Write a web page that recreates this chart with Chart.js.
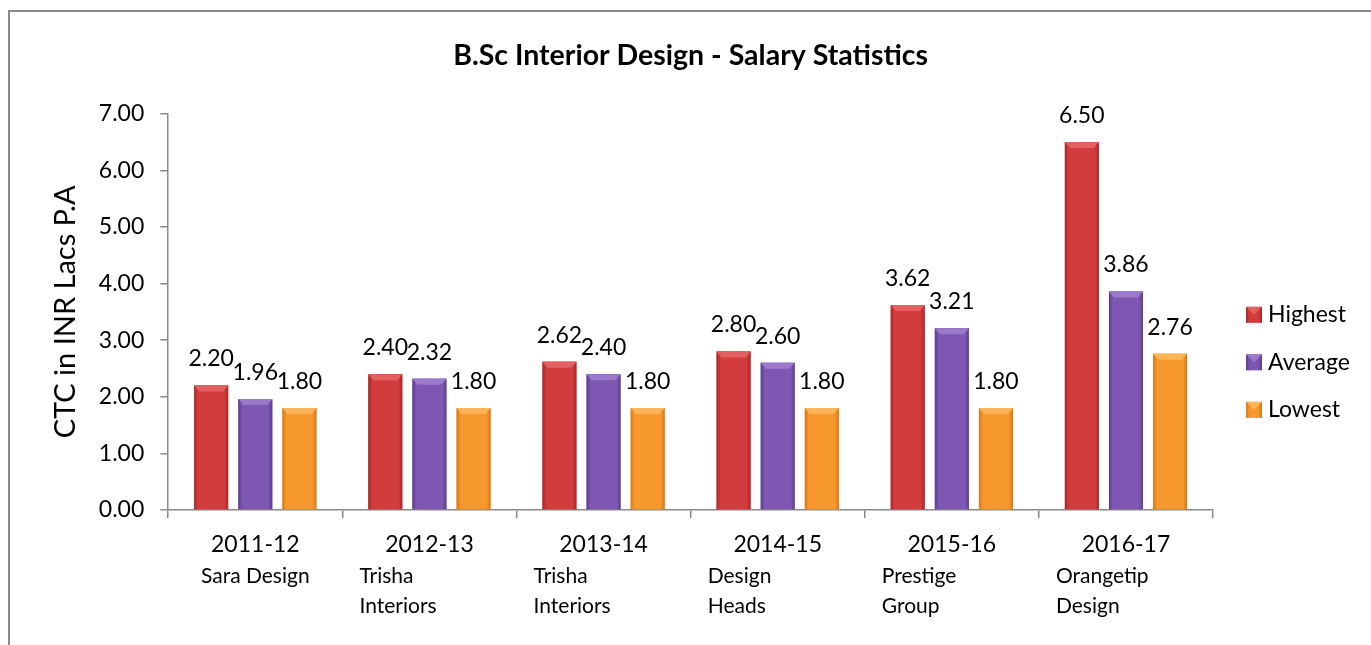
<!DOCTYPE html>
<html>
<head>
<meta charset="utf-8">
<script src="https://cdn.jsdelivr.net/npm/chart.js@4.4.1/dist/chart.umd.min.js"></script>
<style>
  html, body { margin: 0; padding: 0; background: #fff; overflow: hidden; }
  #wrap { position: relative; width: 1371px; height: 645px; }
  #frame { position: absolute; left: 8px; top: 10px; width: 1400px; height: 700px;
           border-top: 2px solid #8a8a8a; border-left: 2px solid #8a8a8a; pointer-events: none; }
  canvas { position: absolute; left: 0; top: 0; }
</style>
</head>
<body>
<div id="wrap">
  <canvas id="c" width="1371" height="645"></canvas>
  <div id="frame"></div>
</div>
<script>
const years = ["2011-12", "2012-13", "2013-14", "2014-15", "2015-16", "2016-17"];
const companies = [["Sara Design"], ["Trisha", "Interiors"], ["Trisha", "Interiors"], ["Design", "Heads"], ["Prestige", "Group"], ["Orangetip", "Design"]];
const highest = [2.20, 2.40, 2.62, 2.80, 3.62, 6.50];
const average = [1.96, 2.32, 2.40, 2.60, 3.21, 3.86];
const lowest = [1.80, 1.80, 1.80, 1.80, 1.80, 2.76];
const seriesNames = ["Highest", "Average", "Lowest"];
const titleText = "B.Sc Interior Design - Salary Statistics";
const yTitle = "CTC in INR Lacs P.A";

const FONT = "Lato, 'Open Sans', sans-serif";
const palette = [
  { main: "#D33C3C", edge: "#A82828", light: "#E36060" },
  { main: "#7D57B2", edge: "#5C3E8C", light: "#9C7ACB" },
  { main: "#F6982E", edge: "#D97812", light: "#FBB458" }
];

const barStyle = {
  id: "barStyle",
  afterDatasetsDraw(chart) {
    const ctx = chart.ctx;
    chart.data.datasets.forEach((ds, di) => {
      const meta = chart.getDatasetMeta(di);
      const pal = palette[di];
      meta.data.forEach((el) => {
        const p = el.getProps(["x", "y", "base", "width"], true);
        const l = p.x - p.width / 2, r = p.x + p.width / 2;
        const g = ctx.createLinearGradient(l, 0, r, 0);
        g.addColorStop(0, pal.edge);
        g.addColorStop(0.12, pal.main);
        g.addColorStop(0.5, pal.main);
        g.addColorStop(0.88, pal.main);
        g.addColorStop(1, pal.edge);
        ctx.save();
        ctx.fillStyle = g;
        ctx.fillRect(l, p.y, p.width, p.base - p.y);
        ctx.fillStyle = pal.light;
        ctx.beginPath();
        ctx.moveTo(l, p.y);
        ctx.lineTo(r, p.y);
        ctx.lineTo(r - 5, p.y + 6);
        ctx.lineTo(l + 5, p.y + 6);
        ctx.closePath();
        ctx.fill();
        ctx.restore();
      });
    });
  }
};

const valueLabels = {
  id: "valueLabels",
  afterDatasetsDraw(chart) {
    const ctx = chart.ctx;
    ctx.save();
    ctx.font = "23px " + FONT;
    ctx.fillStyle = "#000";
    ctx.textAlign = "center";
    ctx.textBaseline = "alphabetic";
    chart.data.datasets.forEach((ds, di) => {
      const meta = chart.getDatasetMeta(di);
      meta.data.forEach((el, i) => {
        const p = el.getProps(["x", "y"], true);
        ctx.fillText(ds.data[i].toFixed(2), p.x, p.y - 19);
      });
    });
    ctx.restore();
  }
};

const companyLabels = {
  id: "companyLabels",
  afterDraw(chart) {
    const ctx = chart.ctx;
    const xs = chart.scales.x;
    ctx.save();
    ctx.font = "21px " + FONT;
    ctx.fillStyle = "#000";
    ctx.textAlign = "left";
    ctx.textBaseline = "middle";
    companies.forEach((lines, i) => {
      const cx = xs.getPixelForValue(i);
      const left = lines.length === 1 ? cx - ctx.measureText(lines[0]).width / 2 : cx - 70;
      lines.forEach((t, k) => {
        ctx.fillText(t, left, xs.bottom + 5 + k * 30);
      });
    });
    ctx.restore();
  }
};

const sideLegend = {
  id: "sideLegend",
  afterDraw(chart) {
    const ctx = chart.ctx;
    const ca = chart.chartArea;
    const mid = (ca.top + ca.bottom) / 2;
    ctx.save();
    ctx.font = "23px " + FONT;
    ctx.textBaseline = "middle";
    ctx.textAlign = "left";
    chart.data.datasets.forEach((ds, i) => {
      const y = mid + 3 + i * 47.5;
      const x = ca.right + 33;
      const pal = palette[i];
      const g = ctx.createLinearGradient(x, 0, x + 16, 0);
      g.addColorStop(0, pal.edge);
      g.addColorStop(0.25, pal.main);
      g.addColorStop(0.75, pal.main);
      g.addColorStop(1, pal.edge);
      ctx.fillStyle = g;
      ctx.fillRect(x, y - 8, 16, 16);
      ctx.fillStyle = pal.light;
      ctx.beginPath();
      ctx.moveTo(x, y - 8); ctx.lineTo(x + 16, y - 8); ctx.lineTo(x + 8, y); ctx.closePath();
      ctx.fill();
      ctx.fillStyle = "#000";
      ctx.fillText(ds.label, x + 22, y);
    });
    ctx.restore();
  }
};

const seriesData = [highest, average, lowest];

new Chart(document.getElementById("c"), {
  type: "bar",
  data: {
    labels: years,
    datasets: seriesNames.map((name, i) => ({
      label: name,
      data: seriesData[i],
      backgroundColor: palette[i].main,
      borderWidth: 0,
      categoryPercentage: 0.76,
      barPercentage: 0.77
    }))
  },
  options: {
    responsive: false,
    animation: false,
    devicePixelRatio: 1,
    layout: { padding: { left: 48, right: 158, top: 35, bottom: 73.4 } },
    plugins: {
      legend: { display: false },
      tooltip: { enabled: false },
      title: {
        display: true,
        fullSize: false,
        text: titleText,
        color: "#000",
        font: { family: FONT, size: 28.5, weight: "bold" },
        padding: { top: 4, bottom: 40.5 }
      }
    },
    scales: {
      x: {
        grid: { display: true, drawOnChartArea: false, drawTicks: true, tickLength: 8, color: "#8a8a8a", lineWidth: 1.5 },
        border: { display: true, color: "#8a8a8a", width: 1.5 },
        ticks: { color: "#000", font: { family: FONT, size: 23 }, padding: 13, maxRotation: 0 }
      },
      y: {
        min: 0,
        max: 7,
        grid: { display: true, drawOnChartArea: false, drawTicks: true, tickLength: 8, color: "#8a8a8a", lineWidth: 1.5 },
        border: { display: true, color: "#8a8a8a", width: 1.5 },
        ticks: { stepSize: 1, color: "#000", font: { family: FONT, size: 23 }, padding: 16,
                 callback: (v) => Number(v).toFixed(2) },
        title: { display: true, text: yTitle, color: "#000", font: { family: FONT, size: 29 }, padding: { top: 0, bottom: 0 } }
      }
    }
  },
  plugins: [barStyle, valueLabels, companyLabels, sideLegend]
});
</script>
</body>
</html>
